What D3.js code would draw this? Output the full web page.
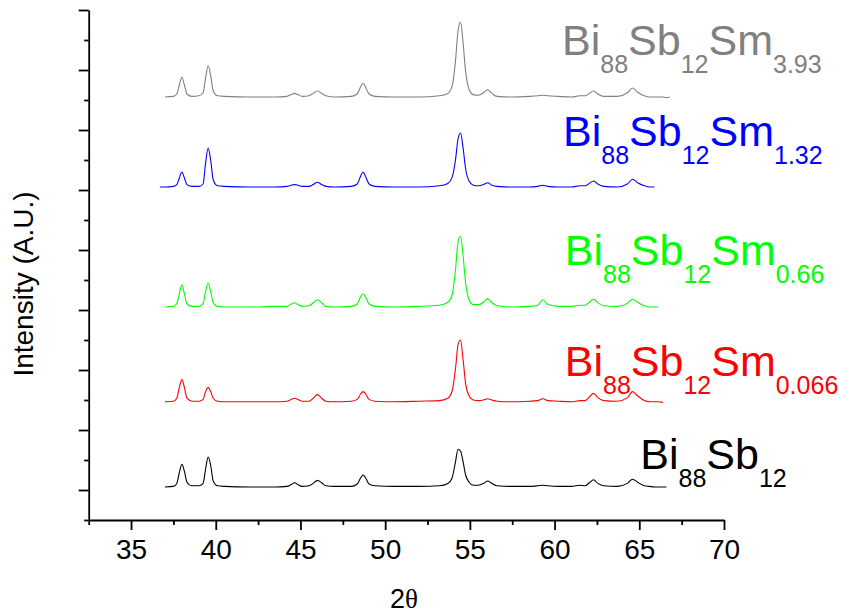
<!DOCTYPE html>
<html>
<head>
<meta charset="utf-8">
<script src="https://cdn.jsdelivr.net/npm/d3@7/dist/d3.min.js"></script>
<style>
  html, body { margin: 0; padding: 0; background: #fff; }
  svg { display: block; font-family: Arial, "Liberation Sans", sans-serif; }
</style>
</head>
<body>
<svg id="chart" width="841" height="616"></svg>
<script>
// Diffraction angle grid (2θ, degrees) shared by all patterns
const angles = [
  36.7, 37.0, 37.5, 37.7, 37.85, 38.0, 38.15, 38.3, 38.6, 39.0,
  39.25, 39.4, 39.55, 39.7, 39.85, 40.1, 40.5, 42.0, 43.5, 44.2,
  44.45, 44.65, 44.85, 45.1, 45.5, 45.75, 46.0, 46.25, 46.5, 47.0,
  48.0, 48.35, 48.55, 48.7, 48.85, 49.05, 49.4, 50.5, 52.0, 53.2,
  53.7, 53.95, 54.15, 54.3, 54.45, 54.6, 54.75, 54.95, 55.2, 55.5,
  55.8, 56.05, 56.3, 56.6, 57.5, 58.5, 59.0, 59.3, 59.6, 60.2,
  61.0, 61.5, 61.8, 62.05, 62.3, 62.55, 62.9, 63.7, 64.3, 64.6,
  64.9, 65.3, 65.6, 65.9, 66.1, 66.4, 66.6, 66.8
];

// Intensities (arbitrary units) above each pattern's own baseline; null = not measured
const intensityBi88Sb12 = [
  null, 0.0, 0.01, 0.06, 0.24, 0.38, 0.26, 0.08, 0.02, 0.02,
  0.06, 0.3, 0.5, 0.36, 0.1, 0.02, 0.01, 0.0, 0.0, 0.01,
  0.04, 0.07, 0.04, 0.01, 0.02, 0.06, 0.11, 0.07, 0.02, 0.01,
  0.01, 0.05, 0.15, 0.2, 0.15, 0.05, 0.02, 0.01, 0.01, 0.02,
  0.06, 0.15, 0.42, 0.63, 0.6, 0.42, 0.2, 0.08, 0.03, 0.03,
  0.06, 0.1, 0.06, 0.02, 0.01, 0.01, 0.02, 0.03, 0.02, 0.01,
  0.01, 0.03, 0.02, 0.07, 0.12, 0.06, 0.02, 0.01, 0.06, 0.13,
  0.08, 0.02, 0.01, 0.0, 0.0, 0.0, 0.0, null
];
const intensitySm0066 = [
  null, 0.0, 0.01, 0.06, 0.24, 0.37, 0.24, 0.06, 0.01, 0.01,
  0.04, 0.17, 0.24, 0.17, 0.06, 0.01, 0.0, 0.0, 0.0, 0.01,
  0.04, 0.06, 0.04, 0.01, 0.01, 0.06, 0.12, 0.06, 0.01, 0.0,
  0.01, 0.04, 0.13, 0.17, 0.13, 0.04, 0.01, 0.0, 0.01, 0.02,
  0.06, 0.18, 0.55, 0.95, 1.03, 0.7, 0.3, 0.1, 0.03, 0.02,
  0.03, 0.05, 0.03, 0.01, 0.0, 0.01, 0.02, 0.05, 0.02, 0.01,
  0.0, 0.02, 0.02, 0.08, 0.14, 0.07, 0.02, 0.01, 0.07, 0.17,
  0.1, 0.02, 0.0, 0.0, 0.0, -0.01, null, null
];
const intensitySm066 = [
  null, 0.0, 0.01, 0.06, 0.22, 0.37, 0.22, 0.05, 0.01, 0.01,
  0.06, 0.26, 0.4, 0.26, 0.07, 0.01, 0.0, 0.0, 0.01, 0.01,
  0.05, 0.07, 0.04, 0.01, 0.02, 0.07, 0.12, 0.07, 0.01, 0.0,
  0.01, 0.05, 0.17, 0.22, 0.16, 0.05, 0.01, 0.0, 0.01, 0.03,
  0.08, 0.2, 0.62, 1.08, 1.18, 0.85, 0.4, 0.12, 0.04, 0.04,
  0.08, 0.14, 0.07, 0.02, 0.0, 0.01, 0.03, 0.12, 0.04, 0.01,
  0.01, 0.03, 0.03, 0.08, 0.13, 0.07, 0.02, 0.01, 0.06, 0.13,
  0.08, 0.02, 0.0, 0.0, 0.0, null, null, null
];
const intensitySm132 = [
  0.0, 0.0, 0.01, 0.04, 0.15, 0.25, 0.15, 0.04, 0.01, 0.01,
  0.05, 0.4, 0.65, 0.45, 0.12, 0.02, 0.01, 0.0, 0.0, 0.01,
  0.03, 0.04, 0.03, 0.01, 0.01, 0.04, 0.08, 0.04, 0.01, 0.0,
  0.01, 0.05, 0.18, 0.25, 0.17, 0.05, 0.01, 0.0, 0.0, 0.02,
  0.06, 0.16, 0.45, 0.8, 0.9, 0.65, 0.3, 0.1, 0.03, 0.02,
  0.04, 0.07, 0.03, 0.01, 0.0, 0.0, 0.01, 0.03, 0.01, 0.0,
  0.0, 0.02, 0.02, 0.06, 0.1, 0.05, 0.01, 0.0, 0.05, 0.13,
  0.07, 0.02, 0.0, 0.0, null, null, null, null
];
const intensitySm393 = [
  null, 0.0, 0.01, 0.05, 0.2, 0.33, 0.2, 0.05, 0.01, 0.02,
  0.07, 0.32, 0.52, 0.36, 0.1, 0.02, 0.01, 0.0, 0.0, 0.01,
  0.04, 0.06, 0.04, 0.01, 0.02, 0.06, 0.1, 0.06, 0.02, 0.0,
  0.01, 0.05, 0.17, 0.23, 0.16, 0.05, 0.01, 0.0, 0.0, 0.02,
  0.06, 0.18, 0.6, 1.1, 1.25, 0.9, 0.42, 0.13, 0.04, 0.03,
  0.07, 0.12, 0.06, 0.01, 0.0, 0.01, 0.02, 0.03, 0.02, 0.01,
  0.0, 0.02, 0.02, 0.06, 0.1, 0.05, 0.01, 0.01, 0.07, 0.15,
  0.08, 0.02, 0.0, 0.0, 0.0, 0.0, -0.01, 0.0
];

// Samples, bottom to top
const sampleIntensities = [intensityBi88Sb12, intensitySm0066, intensitySm066, intensitySm132, intensitySm393];
const sampleOffsets = [0.05, 1.47, 3.05, 5.05, 6.55];
const sampleColors = ["#000000", "#ff0000", "#00ff00", "#0000ff", "#808080"];
// Composition labels: [element, subscript] pairs
const sampleFormulas = [
  [["Bi", "88"], ["Sb", "12"]],
  [["Bi", "88"], ["Sb", "12"], ["Sm", "0.066"]],
  [["Bi", "88"], ["Sb", "12"], ["Sm", "0.66"]],
  [["Bi", "88"], ["Sb", "12"], ["Sm", "1.32"]],
  [["Bi", "88"], ["Sb", "12"], ["Sm", "3.93"]]
];

const xMajorTicks = [35, 40, 45, 50, 55, 60, 65, 70];
const xMinorTicks = [32.5, 37.5, 42.5, 47.5, 52.5, 57.5, 62.5, 67.5];
const yMajorTicks = [0, 1, 2, 3, 4, 5, 6, 7, 8];
const yMinorTicks = [-0.5, 0.5, 1.5, 2.5, 3.5, 4.5, 5.5, 6.5, 7.5];

const svg = d3.select("#chart");
svg.append("rect").attr("width", 841).attr("height", 616).attr("fill", "#fff");

const plot = { left: 88.7, right: 724, top: 10, bottom: 520 };
const x = d3.scaleLinear().domain([32.5, 70]).range([plot.left, plot.right]);
const y = d3.scaleLinear().domain([-0.5, 8]).range([plot.bottom, plot.top]);

// Patterns
const line = d3.line()
  .defined(d => d.v !== null)
  .x(d => x(d.a))
  .y(d => y(d.v))
  .curve(d3.curveMonotoneX);

sampleIntensities.forEach((vals, i) => {
  const pts = angles.map((a, k) => ({ a, v: vals[k] === null ? null : vals[k] + sampleOffsets[i] }));
  svg.append("path")
    .datum(pts)
    .attr("fill", "none")
    .attr("stroke", sampleColors[i])
    .attr("stroke-width", 1.1)
    .attr("stroke-linejoin", "round")
    .attr("d", line);
});

// Axes
function styleAxis(g) {
  g.selectAll("path, line").attr("stroke", "#000").attr("stroke-width", 1.8);
}
const gx = svg.append("g").attr("transform", `translate(0,${plot.bottom})`);
gx.call(d3.axisBottom(x).tickValues(xMajorTicks).tickSize(10).tickSizeOuter(0).tickPadding(9))
  .call(styleAxis);
gx.attr("font-size", 28).attr("font-family", "Arial, 'Liberation Sans', sans-serif");
gx.selectAll("text").attr("fill", "#000");
const gxm = svg.append("g").attr("transform", `translate(0,${plot.bottom})`);
gxm.call(d3.axisBottom(x).tickValues(xMinorTicks).tickSize(5).tickFormat(""))
  .call(styleAxis);
gxm.select(".domain").remove();

const gy = svg.append("g").attr("transform", `translate(${plot.left},0)`);
gy.call(d3.axisLeft(y).tickValues(yMajorTicks).tickSize(10).tickSizeOuter(0).tickFormat(""))
  .call(styleAxis);
const gym = svg.append("g").attr("transform", `translate(${plot.left},0)`);
gym.call(d3.axisLeft(y).tickValues(yMinorTicks).tickSize(4.5).tickFormat(""))
  .call(styleAxis);
gym.select(".domain").remove();

// Axis titles
const xTitle = svg.append("text")
  .attr("x", 404).attr("y", 608)
  .attr("text-anchor", "middle")
  .attr("font-size", 27);
xTitle.append("tspan").text("2");
xTitle.append("tspan").attr("font-family", "'Liberation Serif', 'Times New Roman', serif").text("θ");

svg.append("text")
  .attr("transform", "translate(33,284) rotate(-90)")
  .attr("text-anchor", "middle")
  .attr("font-size", 28)
  .text("Intensity (A.U.)");

// Composition labels beside each pattern
const labelAnchor = [[65.06, 0.05], [60.6, 1.6], [60.6, 3.45], [60.5, 5.44], [60.44, 6.95]];
const mainSize = 43, subSize = 25, subDrop = 18;
sampleFormulas.forEach((parts, i) => {
  const t = svg.append("text")
    .attr("x", x(labelAnchor[i][0]))
    .attr("y", y(labelAnchor[i][1]))
    .attr("fill", sampleColors[i]);
  parts.forEach(([el, sub]) => {
    t.append("tspan").attr("font-size", mainSize).attr("dy", t.selectAll("tspan").size() ? -subDrop : 0).text(el);
    t.append("tspan").attr("font-size", subSize).attr("dy", subDrop).text(sub);
  });
});
</script>
</body>
</html>
